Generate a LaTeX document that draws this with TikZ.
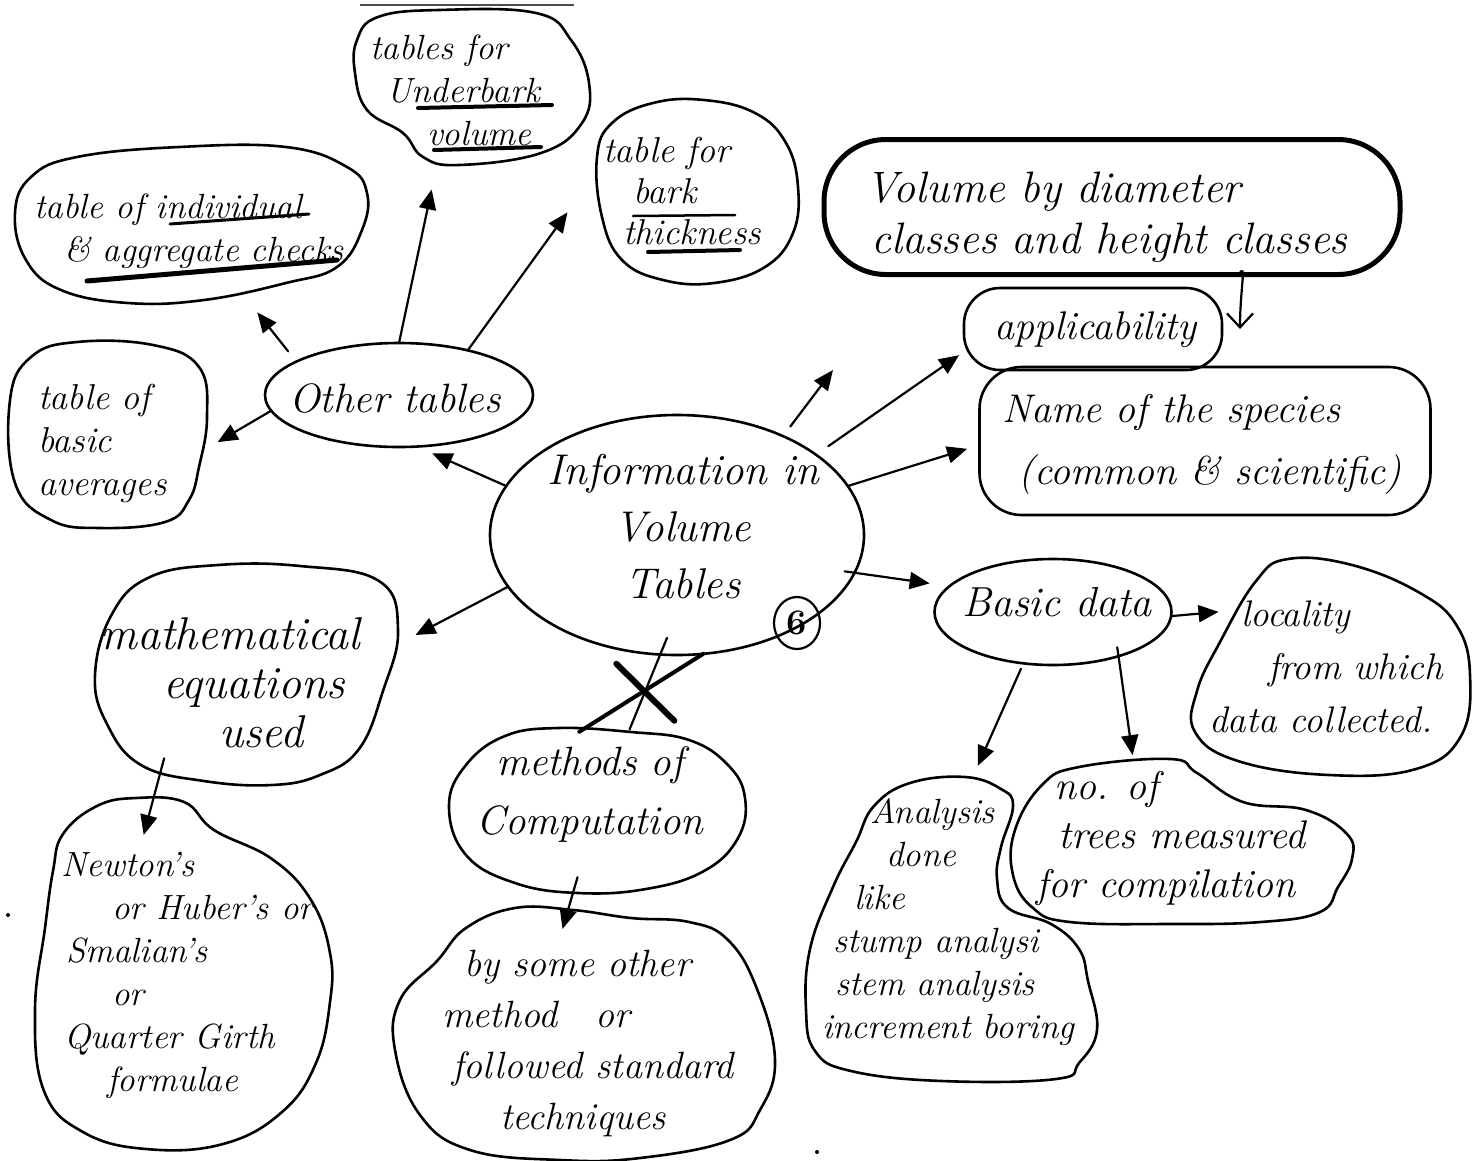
\documentclass[tikz,border=0pt]{standalone}
\usepackage{fontspec}
\usetikzlibrary{arrows.meta,shapes.geometric}
\newcommand\handfont[2]{\fontsize{#1}{#2}\selectfont\itshape}
\begin{document}
\begin{tikzpicture}[x=1pt,y=-1pt,
  ink/.style={line width=2.6pt, line join=round, line cap=round},
  oval/.style={ellipse, draw, ink, inner sep=0pt, outer sep=0pt},
  hook/.style={ellipse, draw=none, inner sep=0pt, outer sep=0pt},
  roundbox/.style={rectangle, draw, ink, inner sep=0pt, outer sep=0pt},
  wire/.style={line width=2.2pt, line cap=round},
  link/.style={wire, -{Triangle[length=20pt,width=17pt]}},
  txt/.style={inner sep=0pt, align=left, anchor=west},
  ctxt/.style={inner sep=0pt, align=center},
  bar/.style={line width=4pt, line cap=round}]

\fill[white] (0,0) rectangle (1474,1160);
\useasboundingbox (0,0) rectangle (1474,1160);

% rule at the top edge and stray dots
\draw[line width=1.6pt, black!70] (360,5) -- (574,5);
\fill (8,915) circle (2pt);
\fill (817,1152) circle (2pt);

% ---------- central topic ----------
\node[oval, minimum width=374pt, minimum height=240pt] (ctr) at (677,535) {};
\node[ctxt, font=\handfont{43}{57}] (ctrT) at (683,527) {Information in\\Volume\\Tables};
\node[ellipse, draw, line width=2.2pt, inner sep=0pt, minimum width=46pt, minimum height=52pt,
      font=\fontsize{36}{36}\selectfont\bfseries] (six) at (797,623) {6};

% ---------- other tables ----------
\node[oval, minimum width=268pt, minimum height=104pt] (oth) at (399,395) {};
\node[ctxt, font=\handfont{41}{44}] (othT) at (395,398) {Other tables};

% table of individual & aggregate checks
\draw[ink] plot[smooth cycle, tension=0.7] coordinates {(15,213) (31,177) (77,157) (179,147) (286,147) (347,167) (367,193) (362,230) (337,267) (286,283) (204,300) (128,303) (61,290) (26,260)};
\node[hook, minimum width=352pt, minimum height=156pt] (chk) at (191,225) {};
\node[txt, font=\handfont{35}{43}] (chkT) at (34,231) {table of individual\\\hspace*{30pt}\& aggregate checks};
\draw[line width=3pt, line cap=round] (170,224) -- (309,214);
\draw[line width=5pt, line cap=round] (87,281) -- (337,260);

% tables for underbark volume
\draw[ink] plot[smooth cycle, tension=0.7] coordinates {(357,40) (378,17) (439,10) (536,13) (571,40) (589,83) (582,123) (541,153) (459,165) (423,157) (403,133) (367,110) (355,73)};
\node[hook, minimum width=234pt, minimum height=155pt] (ub) at (472,88) {};
\node[txt, font=\handfont{35}{43}] (ubT) at (370,90) {tables for\\\hspace*{16pt}Underbark\\\hspace*{57pt}volume};
\draw[bar] (418,108) -- (552,105);
\draw[bar] (434,150) -- (541,147);

% table for bark thickness
\draw[ink] plot[smooth cycle, tension=0.7] coordinates {(597,157) (612,123) (653,103) (704,100) (755,113) (786,143) (798,187) (793,233) (765,267) (714,283) (663,280) (622,260) (602,217)};
\node[hook, minimum width=201pt, minimum height=183pt] (bt) at (700,192) {};
\node[txt, font=\handfont{36}{41}] (btT) at (603,191) {table for\\\hspace*{30pt}bark\\\hspace*{20pt}thickness};
\draw[line width=2.5pt, line cap=round] (633,216) -- (735,215);
\draw[bar] (648,252) -- (740,250);

% table of basic averages
\draw[ink] plot[smooth cycle, tension=0.7] coordinates {(10,400) (31,357) (77,342) (153,345) (199,367) (207,417) (199,467) (189,500) (165,522) (100,528) (51,520) (15,483)};
\node[hook, minimum width=197pt, minimum height=186pt] (avg) at (109,435) {};
\node[txt, font=\handfont{36}{43}] (avgT) at (38,443) {table of\\basic\\averages};

% ---------- right side ----------
\node[roundbox, line width=5pt, rounded corners=62pt, minimum width=576pt, minimum height=135pt] (vol) at (1112,207) {};
\node[txt, font=\handfont{44}{51}] (volT) at (865,217) {Volume by diameter\\\hspace*{6pt}classes and height classes};

\node[roundbox, rounded corners=36pt, minimum width=258pt, minimum height=82pt] (app) at (1093,329) {};
\node[ctxt, font=\handfont{40}{40}] (appT) at (1095,330) {applicability};

\node[roundbox, rounded corners=42pt, minimum width=451pt, minimum height=148pt] (sp) at (1205,441) {};
\node[txt, font=\handfont{40}{62}] (spT) at (1002,444) {Name of the species\\\hspace*{16pt}(common \& scientific)};

\node[oval, minimum width=237pt, minimum height=106pt] (bd) at (1053,612) {};
\node[ctxt, font=\handfont{42}{44}] (bdT) at (1057,602) {Basic data};

% locality
\draw[ink] plot[smooth cycle, tension=0.7] coordinates {(1220,642) (1256,581) (1288,559) (1352,565) (1420,593) (1457,626) (1470,675) (1461,736) (1416,769) (1329,775) (1238,761) (1195,732) (1197,691)};
\node[hook, minimum width=282pt, minimum height=220pt] (loc) at (1334,667) {};
\node[txt, font=\handfont{37}{53}] (locT) at (1209,667) {\hspace*{32pt}locality\\\hspace*{59pt}from which\\data collected.};

% analysis done
\draw[ink] plot[smooth cycle, tension=0.7] coordinates {(874,806) (910,783) (965,777) (1001,789) (1013,806) (1001,847) (997,879) (1008,908) (1051,924) (1079,949) (1088,981) (1097,1030) (1079,1063) (1056,1079) (942,1081) (851,1071) (815,1051) (806,1010) (810,949) (833,887) (856,842)};
\node[hook, minimum width=291pt, minimum height=304pt] (ana) at (951,929) {};
\node[txt, font=\handfont{35}{43}] (anaT) at (822,922) {\hspace*{48pt}Analysis\\\hspace*{64pt}done\\\hspace*{32pt}like\\\hspace*{11pt}stump analysi\\\hspace*{13pt}stem analysis\\increment boring};

% number of trees
\draw[ink] plot[smooth cycle, tension=0.7] coordinates {(1015,830) (1042,785) (1079,767) (1170,759) (1197,773) (1243,802) (1306,810) (1347,834) (1352,859) (1338,887) (1320,912) (1261,922) (1170,924) (1070,922) (1033,908) (1013,875)};
\node[hook, minimum width=339pt, minimum height=165pt] (tre) at (1183,842) {};
\node[txt, font=\handfont{40}{49}] (treT) at (1036,838) {\hspace*{18pt}no. of\\\hspace*{22pt}trees measured\\for compilation};

% ---------- lower left ----------
\draw[ink] plot[smooth cycle, tension=0.7] coordinates {(95,675) (112,614) (150,577) (218,565) (300,566) (379,581) (398,630) (383,691) (359,749) (320,775) (272,785) (204,781) (141,765) (107,724)};
\node[hook, minimum width=303pt, minimum height=220pt] (mat) at (247,675) {};
\node[txt, font=\handfont{46}{49}] (matT) at (100,683) {mathematical\\\hspace*{63pt}equations\\\hspace*{119pt}used};

\draw[ink] plot[smooth cycle, tension=0.7] coordinates {(63,834) (97,806) (136,798) (184,802) (214,830) (272,859) (311,900) (330,953) (330,1002) (316,1063) (282,1112) (223,1144) (146,1149) (83,1132) (44,1091) (35,1010) (45,928) (53,871)};
\node[hook, minimum width=300pt, minimum height=351pt] (newt) at (183,973) {};
\node[txt, font=\handfont{35}{43}] (newtT) at (61,975) {Newton's\\\hspace*{51pt}or Huber's or\\\hspace*{5pt}Smalian's\\\hspace*{51pt}or\\\hspace*{3pt}Quarter Girth\\\hspace*{46pt}formulae};

\draw[ink] plot[smooth cycle, tension=0.7] coordinates {(449,806) (466,765) (505,736) (558,728) (631,732) (689,740) (728,765) (745,798) (738,838) (704,871) (646,889) (578,893) (515,883) (466,855)};
\node[hook, minimum width=296pt, minimum height=165pt] (meth) at (597,810) {};
\node[ctxt, font=\handfont{41}{59}] (methT) at (590,795) {methods of\\Computation};

\draw[ink] plot[smooth cycle, tension=0.7] coordinates {(437,961) (466,928) (515,908) (573,910) (631,918) (689,922) (728,940) (757,989) (775,1060) (760,1110) (730,1140) (640,1158) (560,1160) (470,1150) (420,1115) (395,1050) (400,1000)};
\node[hook, minimum width=375pt, minimum height=255pt] (bys) at (582,1035) {};
\node[txt, font=\handfont{38}{51}] (bysT) at (442,1043) {\hspace*{22pt}by some other\\method\quad or\\\hspace*{10pt}followed standard\\\hspace*{58pt}techniques};

% ---------- connectors ----------
\draw[link, shorten >=17pt] (ctr.164) -- (oth.-71);
\draw[link, shorten <=13pt, shorten >=17pt] (oth.162) -- (chk.-53);
\draw[link, shorten >=28pt] (oth.90) -- (ub.245);
\draw[link, shorten >=67pt] (oth.33) -- (bt.160);
\draw[link, shorten >=13pt] (oth.187) -- (avg.-8);
\draw[link, shorten >=25pt] (ctr.197) -- (mat.11);
\draw[link, shorten <=-8pt, shorten >=-35pt] (mat.227) -- (newt.100);

% crossed-out link to the methods of computation
\draw[wire, shorten <=-18pt] (ctr.262) -- coordinate[pos=0.55] (cut) (meth.68);
\draw[line width=6pt, line cap=round] ([shift={(-27,-32)}]cut) -- ([shift={(31,25)}]cut);
\draw[line width=4pt, line cap=round] ([shift={(-64,36)}]cut) -- ([shift={(60,-42)}]cut);

\draw[link, shorten <=70pt, shorten >=-22pt] (meth.center) -- (bys.96);

\coordinate (up) at (833,370);
\draw[link, shorten <=12pt] (ctr.43) -- (up);
\draw[link, shorten <=15pt, shorten >=6pt] (ctr.30) -- (app.190);
\draw[link, shorten >=13pt] (ctr.16) -- (sp.181);
\draw[link, shorten <=-10pt, shorten >=20pt] (ctr.-12) -- (bd.166);
\draw[link, shorten >=-7pt] (bd.-2) -- (loc.156);
\draw[link, shorten <=6pt, shorten >=14pt] (bd.240) -- (ana.82);
\draw[link, shorten <=-9pt, shorten >=8pt] (bd.-34) -- (tre.122);
\draw[wire, -{Straight Barb[length=14pt,width=26pt]}] (vol.-28) .. controls +(8,-14) and +(0,-40) .. ([xshift=18pt]app.east);

\end{tikzpicture}
\end{document}
